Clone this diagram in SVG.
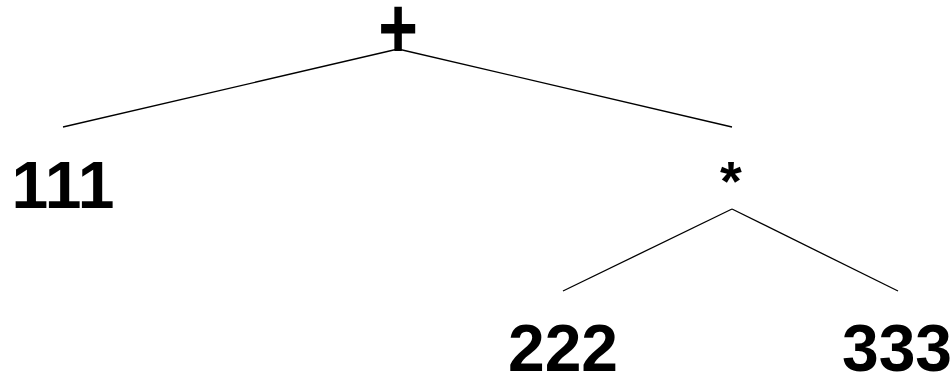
<svg xmlns="http://www.w3.org/2000/svg" width="952" height="374" viewBox="0 0 952 374">
<style>
text{font-family:"Liberation Sans",Arial,sans-serif;font-weight:bold;fill:#000;text-anchor:middle}
.e{stroke:#000;stroke-width:1.3;fill:none}
</style>
<rect width="952" height="374" fill="#fff"/>
<g id="edges">
<line class="e" x1="398" y1="49" x2="63" y2="127"/>
<line class="e" x1="398" y1="49" x2="732" y2="127"/>
<line class="e" x1="732" y1="209" x2="563" y2="291"/>
<line class="e" x1="732" y1="209" x2="898" y2="291"/>
</g>
<g id="n-plus"><text transform="translate(398,58) scale(1,1.27)" x="0" y="0" font-size="68">+</text></g>
<g id="n-111"><text x="63" y="208" font-size="66">111</text></g>
<g id="n-star"><text x="731" y="200" font-size="56">*</text></g>
<g id="n-222"><text x="563" y="371" font-size="66">222</text></g>
<g id="n-333"><text x="897" y="371" font-size="66">333</text></g>
</svg>
